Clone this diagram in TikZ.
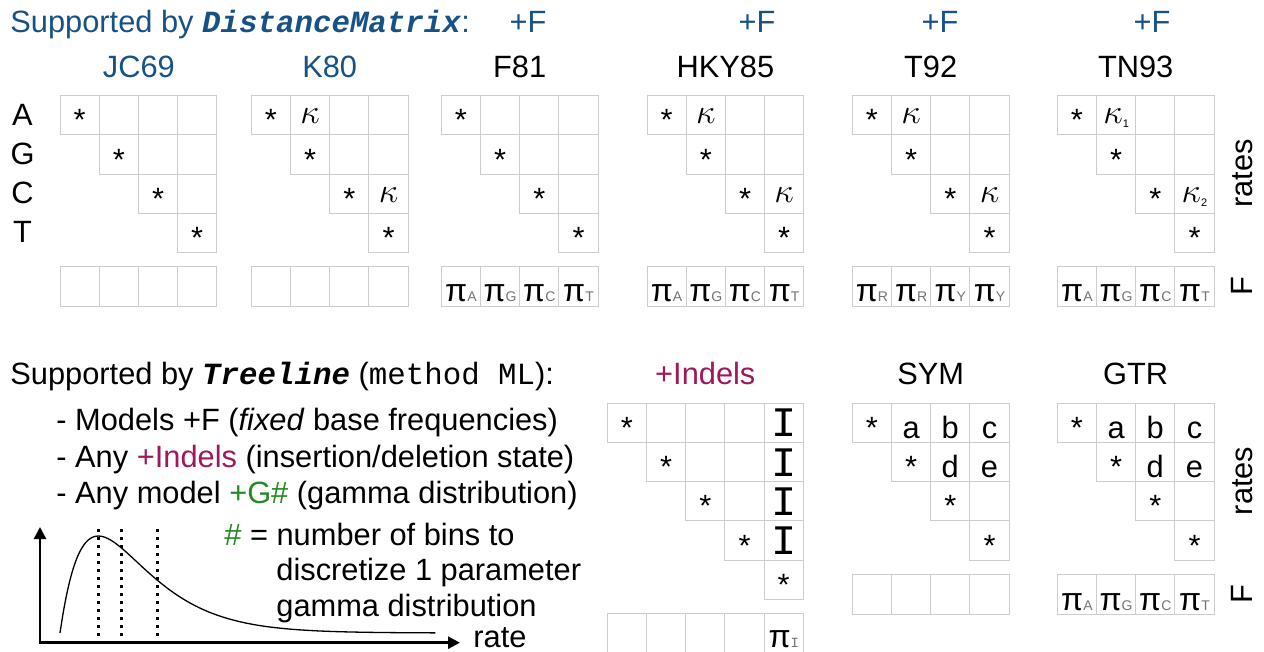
\documentclass[tikz,border=0pt]{standalone}
\usepackage{fontspec}
\setmainfont{Liberation Sans}
\setmonofont{Liberation Mono}
\usetikzlibrary{arrows.meta}

\definecolor{dmblue}{RGB}{23,82,135}
\definecolor{indelred}{RGB}{158,24,92}
\definecolor{gamgreen}{RGB}{36,138,36}
\definecolor{gridgray}{RGB}{205,205,205}

\newcommand{\freq}[1]{{\fontsize{16}{18}\selectfont π}{\fontsize{7}{8}\selectfont\color{black!55}#1}}
\newcommand{\kap}[1]{{\fontsize{17.28}{19}\selectfont$\kappa$}\raisebox{-2pt}{\fontsize{5.5}{6}\selectfont #1}}
\newcommand{\indelI}{{\ttfamily\fontsize{21}{24}\selectfont I}}

\begin{document}
\begin{tikzpicture}[x=0.5pt,y=-0.5pt,font=\fontsize{15.4}{18.5}\selectfont,
  every node/.append style={inner sep=0pt},
  gridcell/.style={draw=gridgray,line width=0.5pt},
  entry/.style={anchor=base},
  lefttext/.style={anchor=base west}]
\path[fill=white] (0,0) rectangle (1264,652);
\useasboundingbox (0,0) rectangle (1264,652);

% top: DistanceMatrix models
\node[lefttext,text=dmblue] (dmtitle) at (10,32.5) {Supported by \texttt{\bfseries\itshape DistanceMatrix}:};
\node[entry,text=dmblue] (plusf1) at (528,32.5) {+F};
\node[entry,text=dmblue] (plusf2) at (757,32.5) {+F};
\node[entry,text=dmblue] (plusf3) at (940,32.5) {+F};
\node[entry,text=dmblue] (plusf4) at (1152,32.5) {+F};

\node[entry,text=dmblue] (jc69) at (138.9,77.5) {JC69};
\node[entry,text=dmblue] (k80) at (329.7,77.5) {K80};
\node[entry] (f81) at (519.7,77.5) {F81};
\node[entry] (hky85) at (725.4,77.5) {HKY85};
\node[entry] (t92) at (930.7,77.5) {T92};
\node[entry] (tn93) at (1135.7,77.5) {TN93};

\foreach \b [count=\r from 0] in {A,G,C,T}
  \node[entry] (base\b) at (22.5,125.3+\r*39.2) {\b};

\foreach \mx/\nm in {60/jc,251.3/kb,441.3/fr,647/hk,852.3/tm,1057.3/tn} {
  \foreach \r in {0,...,3} {
    \foreach \c in {\r,...,3}
      \draw[gridcell] (\mx+\c*39.2,95.7+\r*39.2) rectangle ++(39.2,39.2);
    \node[entry] (\nm-d\r) at (\mx+\r*39.2+19.6,130.9+\r*39.2) {*};
  }
  \foreach \c in {0,...,3}
    \draw[gridcell] (\mx+\c*39.2,266.3) rectangle ++(39.2,40.4);
}

\node[entry] (kb-k1) at (310.1,123.9) {\kap{}};
\node[entry] (kb-k2) at (388.5,202.3) {\kap{}};
\node[entry] (hk-k1) at (705.8,123.9) {\kap{}};
\node[entry] (hk-k2) at (784.2,202.3) {\kap{}};
\node[entry] (tm-k1) at (911.1,123.9) {\kap{}};
\node[entry] (tm-k2) at (989.5,202.3) {\kap{}};
\node[entry] (tn-k1) at (1116.1,123.9) {\kap{1}};
\node[entry] (tn-k2) at (1194.5,202.3) {\kap{2}};

\foreach \mx/\nm in {441.3/fr,647/hk,1057.3/tn}
  \foreach \b [count=\c from 0] in {A,G,C,T}
    \node[entry] (\nm-f\c) at (\mx+\c*39.2+19.6,302) {\freq{\b}};
\foreach \b [count=\c from 0] in {R,R,Y,Y}
  \node[entry] (tm-f\c) at (852.3+\c*39.2+19.6,302) {\freq{\b}};

\node[entry,rotate=90] (ratestop) at (1252.5,173.5) {rates};
\node[entry,rotate=90] (ftop) at (1252,286.5) {F};

% bottom: Treeline models
\node[lefttext] (tltitle) at (10,385) {Supported by \texttt{\bfseries\itshape Treeline} (\texttt{method ML}):};
\node[lefttext] (item1) at (56,430) {- Models +F (\textit{fixed} base frequencies)};
\node[lefttext] (item2) at (56,467) {- Any \textcolor{indelred}{+Indels} (insertion/deletion state)};
\node[lefttext] (item3) at (56,503.5) {- Any model \textcolor{gamgreen}{+G\#} (gamma distribution)};
\node[lefttext] (bins1) at (224,545) {\textcolor{gamgreen}{\#} = number of bins to};
\node[lefttext] (bins2) at (276,580) {discretize 1 parameter};
\node[lefttext] (bins3) at (276,616.5) {gamma distribution};
\node[lefttext] (ratelbl) at (473,647) {rate};

\coordinate (ytip) at (40,527);
\coordinate (org) at (40,642.7);
\coordinate (xtip) at (460,642.7);
\draw[line width=1.3pt,{Triangle[length=6pt,width=6pt]}-{Triangle[length=6pt,width=6pt]}] (ytip) -- (org) -- (xtip);
\foreach \q in {98.3,121.7,157.3}
  \draw[line width=1.3pt,dash pattern=on 1.3pt off 2.7pt] (\q,529) -- (\q,640);
\draw[line width=0.65pt] plot[domain=0:9.8,samples=120,smooth] ({60+38.3*\x},{633-97*\x*exp(1-\x)});

\node[entry,text=indelred] (indels) at (705.3,385) {+Indels};
\node[entry] (sym) at (930.7,385) {SYM};
\node[entry] (gtr) at (1135.7,385) {GTR};

\foreach \r in {0,...,4} {
  \foreach \c in {\r,...,4}
    \draw[gridcell] (607.3+\c*39.2,403.3+\r*39.2) rectangle ++(39.2,39.2);
  \node[entry] (in-d\r) at (607.3+\r*39.2+19.6,438.5+\r*39.2) {*};
}
\foreach \c in {0,...,4}
  \draw[gridcell] (607.3+\c*39.2,613.5) rectangle ++(39.2,40.4);
\foreach \r in {0,...,3}
  \node[entry] (in-i\r) at (783.9,437+\r*39.2) {\indelI};
\node[entry] (in-f4) at (783.9,647.3) {\freq{\texttt{I}}};

\foreach \mx/\nm in {852.3/sy,1057.3/gt} {
  \foreach \r in {0,...,3} {
    \foreach \c in {\r,...,3}
      \draw[gridcell] (\mx+\c*39.2,403.3+\r*39.2) rectangle ++(39.2,39.2);
    \node[entry] (\nm-d\r) at (\mx+\r*39.2+19.6,438.5+\r*39.2) {*};
  }
  \foreach \c in {0,...,3}
    \draw[gridcell] (\mx+\c*39.2,574.3) rectangle ++(39.2,40.4);
  \node[entry] (\nm-a) at (\mx+58.8,438.3) {a};
  \node[entry] (\nm-b) at (\mx+98,438.3) {b};
  \node[entry] (\nm-c) at (\mx+137.2,438.3) {c};
  \node[entry] (\nm-dd) at (\mx+98,477.5) {d};
  \node[entry] (\nm-e) at (\mx+137.2,477.5) {e};
}
\foreach \b [count=\c from 0] in {A,G,C,T}
  \node[entry] (gt-f\c) at (1057.3+\c*39.2+19.6,610) {\freq{\b}};

\node[entry,rotate=90] (ratesbot) at (1252.5,481) {rates};
\node[entry,rotate=90] (fbot) at (1252,594.5) {F};
\end{tikzpicture}
\end{document}
